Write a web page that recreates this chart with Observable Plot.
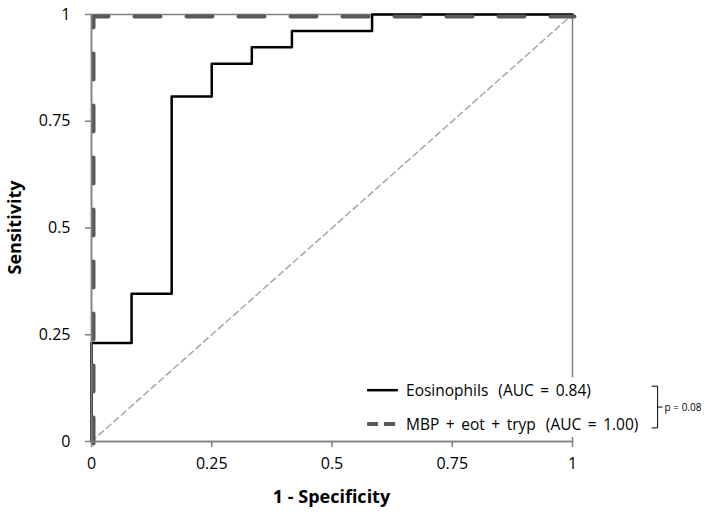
<!DOCTYPE html>
<html>
<head>
<meta charset="utf-8">
<script src="https://cdn.jsdelivr.net/npm/d3@7"></script>
<script src="https://cdn.jsdelivr.net/npm/@observablehq/plot@0.6"></script>
<style>
  html, body { margin: 0; padding: 0; background: #fff; }
  #chart { width: 714px; height: 518px; }
  svg { font-family: "Open Sans", "Liberation Sans", sans-serif; }
</style>
</head>
<body>
<div id="chart"></div>
<script>
// ROC staircase points (1 - specificity, sensitivity)
const eosFpr = [0, 0, 0.0833, 0.1667, 0.25, 0.3333, 0.4167, 0.5833, 1];
const eosTpr = [0, 0.2308, 0.3462, 0.8077, 0.8846, 0.9231, 0.9615, 1, 1];
const mbpFpr = [0, 0, 1];
const mbpTpr = [0, 1, 1];
const refFpr = [0, 1];
const refTpr = [0, 1];
const ticks = [0, 0.25, 0.5, 0.75, 1];
const seriesNames = ["Eosinophils", "MBP + eot + tryp"];
const seriesAuc = ["(AUC = 0.84)", "(AUC = 1.00)"];
const pText = "p = 0.08";

const eos = eosFpr.map((x, i) => ({x, y: eosTpr[i]}));
const mbp = mbpFpr.map((x, i) => ({x, y: mbpTpr[i]}));
const ref = refFpr.map((x, i) => ({x, y: refTpr[i]}));

const fontFam = '"Open Sans", "Liberation Sans", sans-serif';

const plot = Plot.plot({
  width: 714,
  height: 518,
  marginLeft: 91,
  marginRight: 142,
  marginTop: 14,
  marginBottom: 77,
  style: {fontFamily: fontFam, background: "#fff", overflow: "visible"},
  x: {domain: [0, 1]},
  y: {domain: [0, 1]},
  marks: [
    Plot.frame({stroke: "#808080", strokeWidth: 1.5}),
    Plot.line(ref, {x: "x", y: "y", stroke: "#a6a6a6", strokeWidth: 1.5, strokeDasharray: "6,4"}),
    Plot.line(eos, {x: "x", y: "y", curve: "step-after", stroke: "#000", strokeWidth: 2.5}),
    Plot.line(mbp, {x: "x", y: "y", stroke: "#595959", strokeWidth: 4, strokeDasharray: "26,26", dx: 2, dy: 2}),
    Plot.axisX({ticks, tickFormat: d => String(d), tickSize: 6, tickPadding: 10, stroke: "#808080", strokeWidth: 1.5,
      fontSize: 16, fill: "#000", label: null}),
    Plot.axisY({ticks, tickFormat: d => String(d), tickSize: 6, tickPadding: 15, stroke: "#808080", strokeWidth: 1.5,
      fontSize: 16, fill: "#000", label: null}),
    Plot.ruleX([0], {stroke: "#808080", strokeWidth: 1.5}),
    Plot.ruleY([0], {stroke: "#808080", strokeWidth: 1.5})
  ]
});

document.getElementById("chart").appendChild(plot);

// Axis titles and legend, placed using the plot's own scales
const sx = plot.scale("x"), sy = plot.scale("y");
const X = v => sx.apply(v), Y = v => sy.apply(v);
const svg = d3.select(plot);

svg.append("text")
  .attr("x", X(0.5)).attr("y", Y(0) + 62)
  .attr("text-anchor", "middle").attr("font-size", 18).attr("font-weight", "bold")
  .attr("font-family", fontFam).attr("fill", "#000")
  .text("1 - Specificity");
svg.append("text")
  .attr("transform", `translate(${X(0) - 77},${Y(0.5)}) rotate(-90)`)
  .attr("text-anchor", "middle").attr("dominant-baseline", "central")
  .attr("font-size", 18).attr("font-weight", "bold")
  .attr("font-family", fontFam).attr("fill", "#000")
  .text("Sensitivity");

const lg = svg.append("g").attr("text-anchor", "start");
const rowY = [Y(0.119), Y(0.04)];
lg.append("rect").attr("x", X(0.56)).attr("y", rowY[0] - 13).attr("width", X(1.165) - X(0.56))
  .attr("height", rowY[1] - rowY[0] + 26).attr("fill", "#fff");
const x0 = X(0.574), x1 = X(0.638), xt = X(0.655);
lg.append("line").attr("x1", x0).attr("x2", x1).attr("y1", rowY[0]).attr("y2", rowY[0])
  .attr("stroke", "#000").attr("stroke-width", 2.5);
lg.append("line").attr("x1", x0).attr("x2", x1).attr("y1", rowY[1]).attr("y2", rowY[1])
  .attr("stroke", "#595959").attr("stroke-width", 4).attr("stroke-dasharray", "11,6");
seriesNames.forEach((s, i) => {
  const t = lg.append("text").attr("x", xt).attr("y", rowY[i]).attr("dominant-baseline", "central")
    .attr("text-anchor", "start").attr("word-spacing", 2.5)
    .attr("font-size", 15.5).attr("font-family", fontFam).attr("fill", "#000");
  t.append("tspan").text(s);
  t.append("tspan").attr("dx", 10).text(seriesAuc[i]);
});
const bx = X(1.178);
lg.append("path")
  .attr("d", `M${bx - 6},${rowY[0] - 4}H${bx}V${rowY[1] + 4}H${bx - 6}M${bx},${(rowY[0] + rowY[1]) / 2}H${bx + 5}`)
  .attr("fill", "none").attr("stroke", "#000").attr("stroke-width", 1);
lg.append("text").attr("x", bx + 7).attr("y", (rowY[0] + rowY[1]) / 2)
  .attr("dominant-baseline", "central").attr("text-anchor", "start").attr("font-size", 10).attr("font-family", fontFam)
  .attr("fill", "#000").text(pText);
</script>
</body>
</html>
